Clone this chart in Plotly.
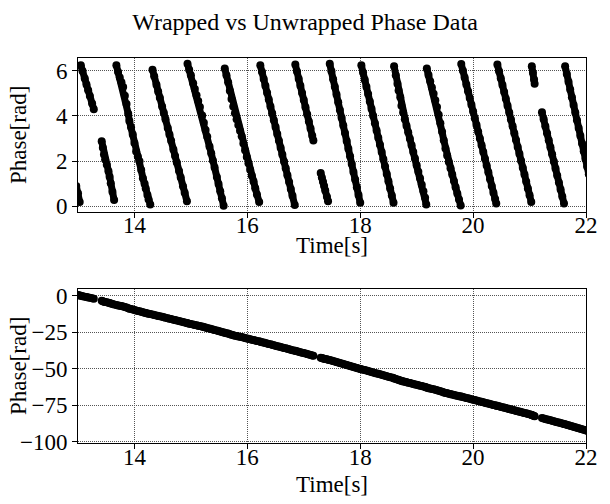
import numpy as np
import plotly.graph_objects as go
from plotly.subplots import make_subplots

# ---- data (time in s, wrapped phase in rad) ----
time_s = [
    12.97, 13.00, 13.03,
    13.05, 13.08, 13.12, 13.15, 13.18, 13.21, 13.25, 13.28,
    13.42, 13.44, 13.46, 13.48, 13.51, 13.54, 13.56, 13.58, 13.61, 13.64,
    13.68, 13.71, 13.74, 13.77, 13.80, 13.83, 13.86, 13.89, 13.91, 13.94, 13.97,
    14.00, 14.03, 14.06, 14.09, 14.12, 14.15, 14.18, 14.20, 14.23, 14.25, 14.28,
    14.32, 14.35, 14.39, 14.42, 14.45, 14.49, 14.52, 14.55, 14.59, 14.62, 14.65,
    14.69, 14.72, 14.75, 14.79, 14.82, 14.86, 14.89, 14.93,
    14.94, 14.97, 15.00, 15.04, 15.07, 15.10, 15.13, 15.16, 15.20, 15.23, 15.26,
    15.29, 15.33, 15.36, 15.39, 15.42, 15.46, 15.49, 15.52, 15.55, 15.58,
    15.60, 15.63, 15.66, 15.69, 15.72, 15.75, 15.78, 15.81, 15.84, 15.87, 15.90,
    15.93, 15.96, 15.99, 16.02, 16.05, 16.08, 16.11, 16.14, 16.17, 16.21,
    16.23, 16.26, 16.29, 16.32, 16.35, 16.38, 16.41, 16.44, 16.47, 16.50, 16.53,
    16.56, 16.59, 16.62, 16.65, 16.68, 16.71, 16.74, 16.77, 16.80, 16.84,
    16.85, 16.88, 16.91, 16.94, 16.97, 17.00, 17.03, 17.06, 17.09, 17.12, 17.15, 17.17,
    17.30, 17.32, 17.34, 17.36, 17.38, 17.41, 17.43,
    17.46, 17.49, 17.52, 17.55, 17.58, 17.61, 17.64, 17.67, 17.70, 17.73, 17.76,
    17.79, 17.82, 17.85, 17.88, 17.91, 17.94, 17.97, 18.00,
    18.02, 18.05, 18.08, 18.11, 18.14, 18.17, 18.20, 18.23, 18.26, 18.29, 18.32,
    18.35, 18.38, 18.41, 18.44, 18.47, 18.50, 18.53, 18.56, 18.59,
    18.60, 18.63, 18.66, 18.68, 18.71, 18.73, 18.76, 18.79, 18.82, 18.85, 18.88,
    18.91, 18.94, 18.97, 19.00, 19.03, 19.06, 19.09, 19.12, 19.15, 19.17,
    19.18, 19.21, 19.24, 19.27, 19.30, 19.33, 19.36, 19.39, 19.42, 19.45, 19.48,
    19.51, 19.54, 19.57, 19.60, 19.63, 19.66, 19.69, 19.72, 19.75, 19.78,
    19.79, 19.82, 19.85, 19.88, 19.91, 19.94, 19.97, 20.00, 20.03, 20.06, 20.09,
    20.12, 20.15, 20.18, 20.21, 20.24, 20.27, 20.30, 20.33, 20.36, 20.39, 20.41,
    20.43, 20.46, 20.49, 20.52, 20.55, 20.58, 20.61, 20.64, 20.67, 20.70, 20.73,
    20.76, 20.79, 20.82, 20.85, 20.88, 20.91, 20.94, 20.97, 21.00, 21.03,
    21.04, 21.06, 21.08, 21.09,
    21.22, 21.25, 21.28, 21.31, 21.34, 21.37, 21.40, 21.43, 21.46, 21.49, 21.52,
    21.55, 21.58, 21.61,
    21.63, 21.66, 21.69, 21.72, 21.75, 21.78, 21.81, 21.84, 21.87, 21.90, 21.93,
    21.96, 21.99, 22.02, 22.05,
]

phase_wrapped_rad = [
    0.90, 0.57, 0.19,
    6.25, 5.99, 5.66, 5.40, 5.14, 4.89, 4.55, 4.30,
    2.88, 2.59, 2.29, 2.07, 1.84, 1.55, 1.31, 1.02, 0.64, 0.27,
    6.25, 5.95, 5.70, 5.50, 5.28, 4.90, 4.53, 4.10, 3.78, 3.50, 3.18,
    2.80, 2.43, 2.20, 1.99, 1.60, 1.24, 1.00, 0.79, 0.50, 0.30, 0.08,
    6.05, 5.76, 5.38, 5.09, 4.81, 4.42, 4.14, 3.85, 3.47, 3.18, 2.90,
    2.51, 2.23, 1.94, 1.56, 1.27, 0.89, 0.60, 0.22,
    6.32, 6.05, 5.80, 5.45, 5.20, 4.92, 4.66, 4.40, 4.02, 3.70, 3.38,
    3.08, 2.65, 2.35, 2.03, 1.72, 1.30, 0.98, 0.66, 0.35, 0.02,
    6.10, 5.80, 5.50, 5.12, 4.75, 4.42, 4.12, 3.85, 3.60, 3.35, 3.10,
    2.78, 2.48, 2.18, 1.90, 1.62, 1.35, 1.09, 0.80, 0.52, 0.19,
    6.25, 5.95, 5.64, 5.34, 5.03, 4.73, 4.42, 4.12, 3.81, 3.51, 3.20,
    2.90, 2.59, 2.29, 1.98, 1.68, 1.37, 1.07, 0.76, 0.46, 0.05,
    6.28, 5.97, 5.65, 5.34, 5.02, 4.71, 4.39, 4.08, 3.76, 3.44, 3.12, 2.91,
    1.47, 1.27, 1.08, 0.90, 0.70, 0.42, 0.22,
    6.32, 5.98, 5.63, 5.29, 4.95, 4.61, 4.26, 3.92, 3.58, 3.24, 2.89,
    2.55, 2.21, 1.87, 1.52, 1.18, 0.84, 0.50, 0.15,
    6.25, 5.93, 5.61, 5.29, 4.97, 4.64, 4.32, 4.00, 3.68, 3.36, 3.04,
    2.72, 2.40, 2.08, 1.76, 1.43, 1.11, 0.79, 0.47, 0.15,
    6.20, 5.80, 5.43, 5.13, 4.83, 4.45, 4.15, 3.86, 3.57, 3.28, 2.99,
    2.70, 2.40, 2.11, 1.82, 1.53, 1.24, 0.95, 0.66, 0.37, 0.08,
    6.10, 5.82, 5.54, 5.26, 4.98, 4.70, 4.40, 4.05, 3.68, 3.30, 2.92,
    2.56, 2.25, 1.96, 1.68, 1.40, 1.12, 0.84, 0.56, 0.30, 0.03,
    6.30, 6.00, 5.70, 5.40, 5.10, 4.80, 4.50, 4.20, 3.90, 3.60, 3.30,
    3.00, 2.70, 2.40, 2.10, 1.80, 1.50, 1.20, 0.90, 0.60, 0.32, 0.12,
    6.28, 5.98, 5.67, 5.37, 5.06, 4.76, 4.45, 4.15, 3.84, 3.54, 3.23,
    2.93, 2.62, 2.32, 2.01, 1.71, 1.40, 1.10, 0.79, 0.49, 0.19,
    6.20, 5.92, 5.62, 5.43,
    4.16, 3.85, 3.54, 3.23, 2.92, 2.61, 2.30, 1.98, 1.67, 1.36, 1.05,
    0.74, 0.43, 0.12,
    6.20, 5.86, 5.52, 5.17, 4.83, 4.49, 4.15, 3.81, 3.47, 3.12, 2.78,
    2.44, 2.10, 1.76, 1.42,
]

time_ticks = [14, 16, 18, 20, 22]
wrapped_ticks = [0, 2, 4, 6]
unwrapped_ticks = [0, -25, -50, -75, -100]
chart_title = "Wrapped vs Unwrapped Phase Data"
x_label = "Time[s]"
y_label = "Phase[rad]"

# unwrapped series derived from the wrapped readings (as np.unwrap does in the source)
t_arr = np.array(time_s)
w_arr = np.array(phase_wrapped_rad)
u_arr = np.unwrap(w_arr)

# dense samples in the source look like solid strokes: join consecutive samples,
# breaking the stroke at wraps (top) and at missing-data gaps (both)
gap = np.r_[False, np.diff(t_arr) > 0.08]
wrap = np.r_[False, np.diff(w_arr) > np.pi]


def with_breaks(x, y, brk):
    xs, ys = [], []
    for i in range(len(x)):
        if brk[i]:
            xs.append(None)
            ys.append(None)
        xs.append(float(x[i]))
        ys.append(float(y[i]))
    return xs, ys


x_top, y_top = with_breaks(t_arr, w_arr, gap | wrap)
x_bot, y_bot = with_breaks(t_arr, u_arr, gap)

FONT = "Liberation Serif, Times New Roman, serif"
FS = 23

fig = make_subplots(rows=2, cols=1)
marker = dict(color="black", size=8, line=dict(width=0))
line = dict(color="black", width=7)
fig.add_trace(go.Scatter(x=x_top, y=y_top, mode="lines+markers", marker=marker, line=line,
                         connectgaps=False), row=1, col=1)
fig.add_trace(go.Scatter(x=x_bot, y=y_bot, mode="lines+markers", marker=marker, line=line,
                         connectgaps=False), row=2, col=1)

axis_common = dict(
    showline=True, mirror=True, linecolor="black", linewidth=1,
    ticks="outside", ticklen=5, tickwidth=1, tickcolor="black",
    showgrid=True, gridcolor="#555", griddash="1px,1px", gridwidth=1,
    zeroline=False, tickfont=dict(family=FONT, size=FS, color="black"),
)

fig.update_xaxes(range=[13, 22], tickvals=time_ticks, ticklabelstandoff=-12, **axis_common)
fig.update_yaxes(**axis_common)
fig.update_yaxes(range=[-0.24, 6.57], tickvals=wrapped_ticks, row=1, col=1)
fig.update_yaxes(range=[-100.9, 4.4], tickvals=unwrapped_ticks, row=2, col=1)

lab_font = dict(family=FONT, size=FS, color="black")
annotations = [
    dict(text=y_label, textangle=-90, xref="paper", yref="paper", x=-0.118, y=0.80,
         xanchor="center", yanchor="middle", showarrow=False, font=lab_font),
    dict(text=y_label, textangle=-90, xref="paper", yref="paper", x=-0.118, y=0.20,
         xanchor="center", yanchor="middle", showarrow=False, font=lab_font),
    dict(text=x_label, xref="paper", yref="paper", x=0.5, y=0.514,
         xanchor="center", yanchor="middle", showarrow=False, font=lab_font),
    dict(text=x_label, xref="paper", yref="paper", x=0.5, y=-0.1065,
         xanchor="center", yanchor="middle", showarrow=False, font=lab_font),
]

fig.update_layout(
    width=610, height=504,
    margin=dict(l=78, r=14, t=58, b=61),
    plot_bgcolor="white", paper_bgcolor="white",
    showlegend=False,
    title=dict(text=chart_title, x=0.5, xanchor="center", xref="container",
               y=1 - 22 / 504, yanchor="middle", yref="container",
               font=dict(family=FONT, size=24, color="black")),
    xaxis=dict(domain=[0, 1]), xaxis2=dict(domain=[0, 1]),
    yaxis=dict(domain=[0.601, 1.0]), yaxis2=dict(domain=[0.0, 0.399]),
    annotations=annotations,
)

fig.write_html("out.html")
